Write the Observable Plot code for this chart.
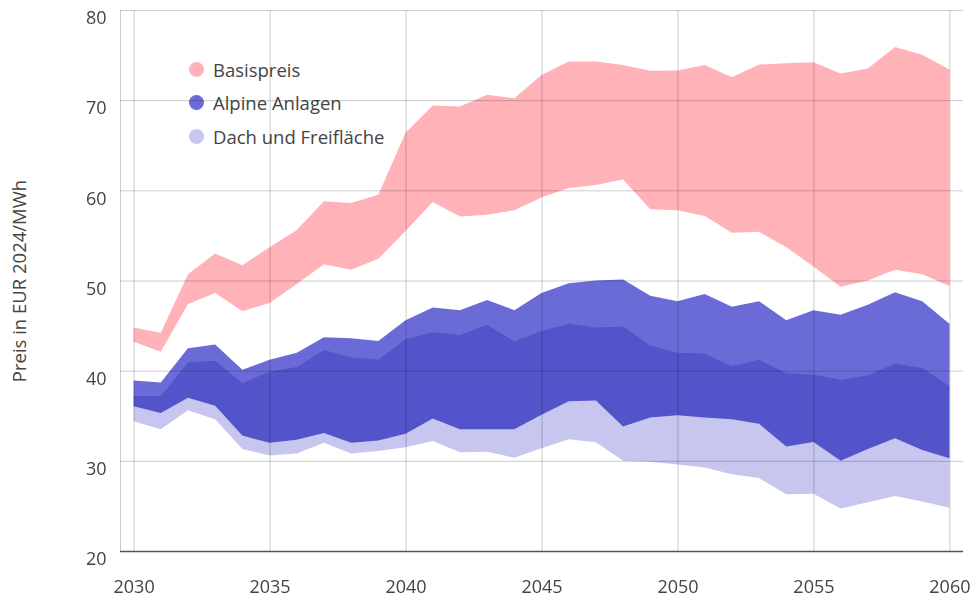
<!DOCTYPE html>
<html>
<head>
<meta charset="utf-8">
<script src="https://cdn.jsdelivr.net/npm/d3@7"></script>
<script src="https://cdn.jsdelivr.net/npm/@observablehq/plot@0.6"></script>
<style>
  html, body { margin: 0; padding: 0; background: #fff; }
  #wrap { position: relative; width: 973px; height: 602px; font-family: "Open Sans", sans-serif; color: #444; }
  #legend { position: absolute; left: 189px; top: 53px; z-index: 0; }
  .item { display: flex; align-items: center; height: 33.3px; font-size: 18.5px; white-space: nowrap; }
  .dot { width: 15px; height: 15px; border-radius: 50%; margin-right: 9px; }
  #ylabel { position: absolute; left: 18px; top: 281px; transform: translate(-50%, -50%) rotate(-90deg); font-size: 18.5px; white-space: nowrap; z-index: 0; }
  #chart { position: absolute; left: 0; top: 0; z-index: 1; }
</style>
</head>
<body>
<div id="wrap">
  <div id="legend"></div>
  <div id="ylabel">Preis in EUR 2024/MWh</div>
  <div id="chart"></div>
</div>
<script>
const years = [2030,2031,2032,2033,2034,2035,2036,2037,2038,2039,2040,2041,2042,2043,2044,2045,2046,2047,2048,2049,2050,2051,2052,2053,2054,2055,2056,2057,2058,2059,2060];

const basisLow  = [43.2,42.1,47.4,48.6,46.6,47.5,49.6,51.8,51.2,52.4,55.5, 58.7,57.1,57.3,57.8,59.2,60.25,60.6,61.2,57.9,57.8, 57.15,55.3,55.4,53.7,51.55,49.3,50.0,51.2,50.7,49.4];
const basisHigh = [44.8,44.2,50.7,53.0,51.7,53.7,55.6,58.8,58.6,59.5,66.4, 69.4,69.3,70.6,70.2,72.8,74.3,74.3,73.9,73.25,73.3, 73.9,72.55,73.95,74.1,74.2,72.95,73.5,75.9,75.05,73.4];

const alpineLow  = [36.05,35.3,37.0,36.1,32.8,32.0,32.35,33.1,32.0,32.25,33.0, 34.7,33.5,33.5,33.5,35.1,36.6,36.7,33.8,34.8,35.05, 34.8,34.6,34.1,31.6,32.1,30.0,31.3,32.5,31.2,30.3];
const alpineHigh = [38.9,38.7,42.5,42.9,40.1,41.2,42.0,43.7,43.6,43.3,45.6, 47.0,46.7,47.85,46.7,48.6,49.7,50.0,50.1,48.3,47.7, 48.5,47.1,47.7,45.6,46.7,46.2,47.3,48.7,47.7,45.2];

const dachLow  = [34.4,33.5,35.6,34.6,31.3,30.6,30.8,32.0,30.8,31.1,31.5, 32.2,30.95,31.0,30.35,31.4,32.4,32.05,30.0,29.9,29.6, 29.25,28.5,28.1,26.3,26.35,24.7,25.4,26.1,25.5,24.8];
const dachHigh = [37.2,37.15,40.9,41.1,38.6,39.9,40.4,42.3,41.5,41.2,43.5, 44.25,43.95,45.1,43.25,44.4,45.2,44.8,44.9,42.8,42.0, 41.9,40.5,41.2,39.7,39.55,39.0,39.5,40.8,40.3,38.3];

const seriesNames = ["Basispreis", "Alpine Anlagen", "Dach und Freifläche"];
const seriesColors = ["#ffb3b8", "#6b6bd8", "#c6c6ef"];

const xTicks = [2030, 2035, 2040, 2045, 2050, 2055, 2060];
const yTicks = [20, 30, 40, 50, 60, 70, 80];
const xDomain = [2029.5, 2060.5];
const yDomain = [20, 80];

const rows = years.map((year, i) => ({
  year,
  bLo: basisLow[i], bHi: basisHigh[i],
  aLo: alpineLow[i], aHi: alpineHigh[i],
  dLo: dachLow[i], dHi: dachHigh[i]
}));

// legend (beneath the chart's grid lines)
const legend = document.getElementById("legend");
seriesNames.forEach((name, i) => {
  const item = document.createElement("div");
  item.className = "item";
  const dot = document.createElement("span");
  dot.className = "dot";
  dot.style.background = seriesColors[i];
  const label = document.createElement("span");
  label.textContent = name;
  item.appendChild(dot);
  item.appendChild(label);
  legend.appendChild(item);
});

const chart = Plot.plot({
  width: 973,
  height: 602,
  marginLeft: 120,
  marginRight: 10,
  marginTop: 10,
  marginBottom: 51,
  style: { background: "transparent", fontFamily: "'Open Sans', sans-serif", fontSize: "18px", color: "#444", overflow: "visible" },
  x: { domain: xDomain, axis: null },
  y: { domain: yDomain, axis: null },
  marks: [
    Plot.areaY(rows, { x: "year", y1: "bLo", y2: "bHi", fill: seriesColors[0] }),
    Plot.areaY(rows, { x: "year", y1: "dLo", y2: "dHi", fill: seriesColors[2] }),
    Plot.areaY(rows, { x: "year", y1: "aLo", y2: "aHi", fill: seriesColors[1], mixBlendMode: "multiply" }),
    Plot.ruleX(xTicks, { x: d => d, stroke: "#000", strokeOpacity: 0.2 }),
    Plot.ruleY(yTicks.filter(d => d !== yDomain[0]), { y: d => d, stroke: "#000", strokeOpacity: 0.2 }),
    Plot.ruleX([xDomain[0]], { x: d => d, stroke: "#000", strokeOpacity: 0.2 }),
    Plot.ruleY([yDomain[0]], { y: d => d, stroke: "#555", strokeWidth: 1.6 }),
    Plot.text(yTicks, { y: d => d, text: d => String(d), frameAnchor: "left", textAnchor: "end", dx: -14, dy: 8, fill: "#444" }),
    Plot.text(xTicks, { x: d => d, text: d => String(d), frameAnchor: "bottom", dy: 41, fill: "#444" })
  ]
});
document.getElementById("chart").appendChild(chart);
</script>
</body>
</html>
